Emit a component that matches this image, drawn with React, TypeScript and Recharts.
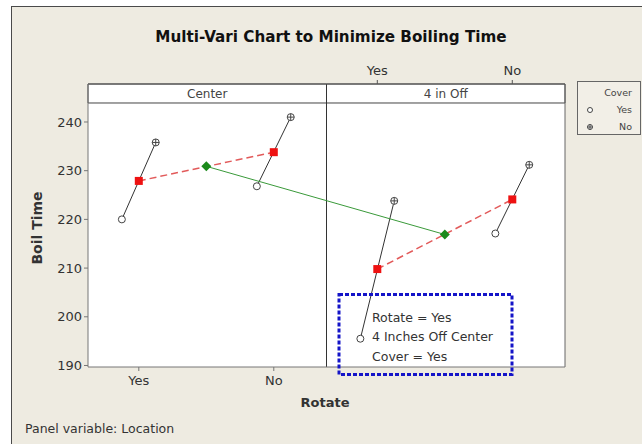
import React from 'react';
import {
  ComposedChart,
  Scatter,
  XAxis,
  YAxis,
  CartesianGrid,
  ReferenceArea,
  ReferenceLine,
} from 'recharts';

// ---- data ----
const locations = ['Center', '4 in Off'];
const rotateLevels = ['Yes', 'No'];
const coverLevels = ['Yes', 'No'];
// Boil time by location (rows) and rotate level (columns)
const coverYesTimes = [
  [220.0, 226.8],
  [195.5, 217.1],
];
const coverNoTimes = [
  [235.8, 241.0],
  [223.8, 231.2],
];
const rotateMeans = [
  [227.9, 233.8],
  [209.8, 224.1],
];
const locationMeans = [230.9, 216.9];
const yTicks = [190, 200, 210, 220, 230, 240];
const annotationLines = ['Rotate = Yes', '4 Inches Off Center', 'Cover = Yes'];

// ---- layout constants (positions within a panel, panel width = 1) ----
const ROT_POS = [0.213, 0.779];
const COVER_OFF = [-0.071, 0.071];
const LOC_MID = (ROT_POS[0] + ROT_POS[1]) / 2;
const Y_MIN = 189.69;
const Y_STRIP = 243.9;
const Y_MAX = 247.8;
const FONT = 'DejaVu Sans';

const xOf = (loc: number, rot: number, cov?: number) =>
  loc + ROT_POS[rot] + (cov === undefined ? 0 : COVER_OFF[cov]);

const coverYesPts = locations.flatMap((_, l) =>
  rotateLevels.map((_, r) => ({ x: xOf(l, r, 0), y: coverYesTimes[l][r] }))
);
const coverNoPts = locations.flatMap((_, l) =>
  rotateLevels.map((_, r) => ({ x: xOf(l, r, 1), y: coverNoTimes[l][r] }))
);
const rotateMeanPts = locations.flatMap((_, l) =>
  rotateLevels.map((_, r) => ({ x: xOf(l, r), y: rotateMeans[l][r] }))
);
const locMeanPts = locations.map((_, l) => ({ x: l + LOC_MID, y: locationMeans[l] }));

const blackSegs = locations.flatMap((_, l) =>
  rotateLevels.map((_, r) => [
    { x: xOf(l, r, 0), y: coverYesTimes[l][r] },
    { x: xOf(l, r, 1), y: coverNoTimes[l][r] },
  ])
);
const redSegs = locations.map((_, l) =>
  rotateLevels.map((_, r) => ({ x: xOf(l, r), y: rotateMeans[l][r] }))
);

const bottomTicks = ROT_POS.map((p) => p);
const topTicks = ROT_POS.map((p) => 1 + p);

const NoShape = () => <g />;

const OpenCircle = (p: any) => (
  <circle cx={p.cx} cy={p.cy} r={3.5} fill="#fff" stroke="#444" strokeWidth={1} />
);
const CrossCircle = (p: any) => (
  <g>
    <circle cx={p.cx} cy={p.cy} r={3.5} fill="#fff" stroke="#444" strokeWidth={1} />
    <line x1={p.cx - 3.5} x2={p.cx + 3.5} y1={p.cy} y2={p.cy} stroke="#444" strokeWidth={1} />
    <line x1={p.cx} x2={p.cx} y1={p.cy - 3.5} y2={p.cy + 3.5} stroke="#444" strokeWidth={1} />
  </g>
);
const RedSquare = (p: any) => (
  <rect x={p.cx - 4} y={p.cy - 4} width={8} height={8} fill="#ee1111" />
);
const GreenDiamond = (p: any) => (
  <polygon
    points={`${p.cx},${p.cy - 5} ${p.cx + 5},${p.cy} ${p.cx},${p.cy + 5} ${p.cx - 5},${p.cy}`}
    fill="#1b8a1b"
  />
);

export default function App() {
  return (
    <div style={{ position: 'absolute', left: 0, top: 0, width: 642, height: 444, background: '#fff', overflow: 'hidden' }}>
      <div
        style={{
          position: 'absolute',
          left: 11,
          top: 6,
          width: 631,
          height: 438,
          background: '#eeebe1',
          borderLeft: '1px solid #4a4a4a',
          borderTop: '1px solid #4a4a4a',
          boxSizing: 'border-box',
        }}
      />
      <div style={{ position: 'absolute', left: 0, top: 0 }}>
        <ComposedChart
          width={642}
          height={444}
          margin={{ top: 54, right: 77, bottom: 47, left: 38 }}
          style={{ fontFamily: FONT }}
        >
          <CartesianGrid fill="#ffffff" horizontal={false} vertical={false} />
          <XAxis
            xAxisId="bottom"
            dataKey="x"
            type="number"
            domain={[0, 2]}
            allowDataOverflow
            ticks={bottomTicks}
            tickFormatter={(v: number, i: number) => rotateLevels[i] ?? ''}
            height={30}
            stroke="#777"
            tickSize={4}
            tickMargin={5}
            tick={{ fill: '#333', fontSize: 13, fontFamily: FONT }}
            interval={0}
          />
          <XAxis
            xAxisId="top"
            orientation="top"
            dataKey="x"
            type="number"
            domain={[0, 2]}
            allowDataOverflow
            ticks={topTicks}
            tickFormatter={(v: number, i: number) => rotateLevels[i] ?? ''}
            height={30}
            stroke="#555"
            tickSize={4}
            tickMargin={5}
            tick={{ fill: '#333', fontSize: 13, fontFamily: FONT }}
            interval={0}
          />
          <YAxis
            dataKey="y"
            type="number"
            domain={[Y_MIN, Y_MAX]}
            allowDataOverflow
            ticks={yTicks}
            width={50}
            stroke="#777"
            tickSize={4}
            tick={{ fill: '#333', fontSize: 13, fontFamily: FONT }}
            interval={0}
          />
          <ReferenceArea
            xAxisId="bottom"
            x1={0}
            x2={1}
            y1={Y_STRIP}
            y2={Y_MAX}
            fill="#fff"
            fillOpacity={1}
            stroke="#444"
            label={{ value: locations[0], position: 'center', fill: '#444', fontSize: 12, fontFamily: FONT }}
          />
          <ReferenceArea
            xAxisId="bottom"
            x1={1}
            x2={2}
            y1={Y_STRIP}
            y2={Y_MAX}
            fill="#fff"
            fillOpacity={1}
            stroke="#444"
            label={{ value: locations[1], position: 'center', fill: '#444', fontSize: 12, fontFamily: FONT }}
          />
          <ReferenceLine xAxisId="bottom" x={1} stroke="#333" strokeWidth={1} />
          <ReferenceLine xAxisId="bottom" x={2} stroke="#666" strokeWidth={1} />

          {blackSegs.map((seg, i) => (
            <Scatter
              key={`b${i}`}
              xAxisId="bottom"
              data={seg}
              line={{ stroke: '#333', strokeWidth: 1 }}
              lineType="joint"
              shape={NoShape}
              isAnimationActive={false}
            />
          ))}
          {redSegs.map((seg, i) => (
            <Scatter
              key={`r${i}`}
              xAxisId="bottom"
              data={seg}
              line={{ stroke: '#e25a5a', strokeWidth: 1.5, strokeDasharray: '7 4' }}
              lineType="joint"
              shape={NoShape}
              isAnimationActive={false}
            />
          ))}
          <Scatter
            xAxisId="bottom"
            data={locMeanPts}
            line={{ stroke: '#3a9a3a', strokeWidth: 1 }}
            lineType="joint"
            shape={NoShape}
            isAnimationActive={false}
          />
          <Scatter xAxisId="bottom" name={coverLevels[0]} data={coverYesPts} shape={OpenCircle} isAnimationActive={false} />
          <Scatter xAxisId="bottom" name={coverLevels[1]} data={coverNoPts} shape={CrossCircle} isAnimationActive={false} />
          <Scatter xAxisId="bottom" data={rotateMeanPts} shape={RedSquare} isAnimationActive={false} />
          <Scatter xAxisId="top" data={locMeanPts} shape={GreenDiamond} isAnimationActive={false} />
        </ComposedChart>
      </div>

      <svg
        width={642}
        height={444}
        style={{ position: 'absolute', left: 0, top: 0, pointerEvents: 'none', fontFamily: FONT }}
      >
        <text x={331} y={42} textAnchor="middle" fontSize={15.2} fontWeight="bold" fill="#111">
          Multi-Vari Chart to Minimize Boiling Time
        </text>
        <text x={325} y={407} textAnchor="middle" fontSize={13} fontWeight="bold" fill="#333">
          Rotate
        </text>
        <text
          x={0}
          y={0}
          transform="translate(42,228) rotate(-90)"
          textAnchor="middle"
          fontSize={14}
          fontWeight="bold"
          fill="#333"
        >
          Boil Time
        </text>
        <text x={25} y={433} fontSize={12.5} fill="#333">
          Panel variable: Location
        </text>

        {/* legend */}
        <rect x={577.5} y={81.5} width={63} height={53} fill="#f2efe7" stroke="#666" />
        <text x={632} y={96} textAnchor="end" fontSize={9.5} fill="#444">Cover</text>
        <circle cx={590} cy={110} r={2.5} fill="#fff" stroke="#444" />
        <text x={632} y={113} textAnchor="end" fontSize={9.5} fill="#444">{coverLevels[0]}</text>
        <circle cx={590} cy={127} r={2.5} fill="#fff" stroke="#444" />
        <line x1={587.5} x2={592.5} y1={127} y2={127} stroke="#444" />
        <line x1={590} x2={590} y1={124.5} y2={129.5} stroke="#444" />
        <text x={632} y={130} textAnchor="end" fontSize={9.5} fill="#444">{coverLevels[1]}</text>

        {/* annotation */}
        <rect
          x={339}
          y={294.5}
          width={173}
          height={80}
          fill="none"
          stroke="#1414c8"
          strokeWidth={3}
          strokeDasharray="4 2"
        />
        {annotationLines.map((t, i) => (
          <text key={t} x={372} y={321.5 + i * 19.5} fontSize={12.5} fill="#333">
            {t}
          </text>
        ))}
      </svg>
    </div>
  );
}
